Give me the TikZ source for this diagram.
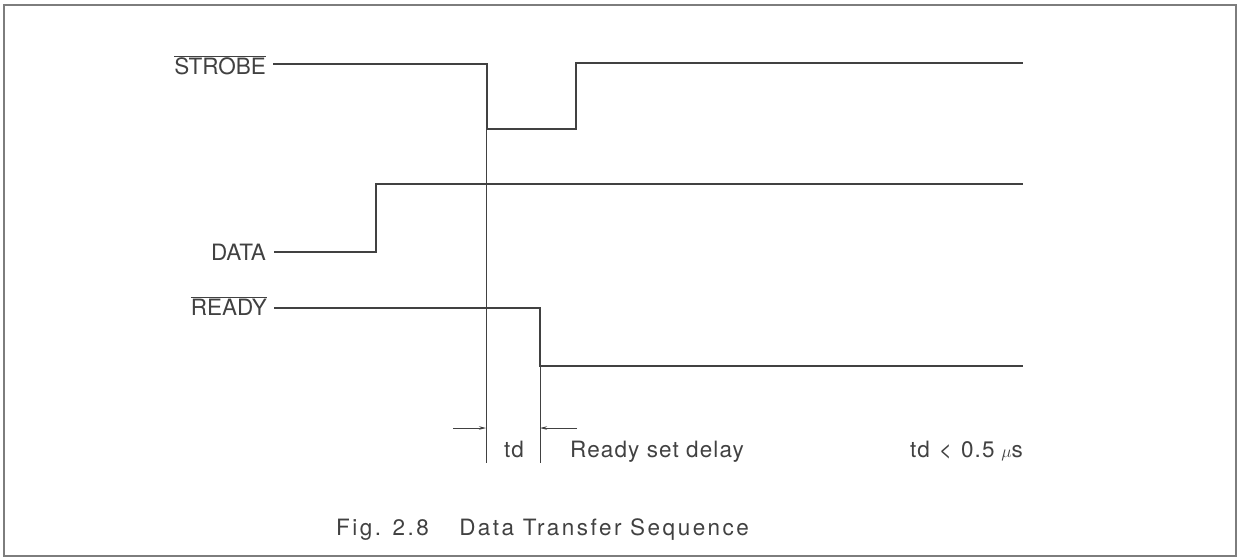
\documentclass[tikz,border=0pt]{standalone}
\usepackage{fontspec}
\setmainfont{TeX Gyre Heros}
\newfontfamily\bodyfont{TeX Gyre Heros}[LetterSpace=5]
\newfontfamily\plainfont{TeX Gyre Heros}
\newfontfamily\capfont{TeX Gyre Heros}[LetterSpace=11]
\usetikzlibrary{arrows.meta}
\definecolor{ink}{RGB}{65,65,65}
\definecolor{frame}{RGB}{125,125,125}
\begin{document}
\begin{tikzpicture}[x=0.05cm,y=-0.05cm,
  wave/.style={draw=ink,line width=2pt},
  guide/.style={draw=ink,line width=1.1pt},
  lbl/.style={text=ink,inner sep=0pt,font=\fontsize{32}{35}\selectfont},
  txt/.style={text=ink,inner sep=0pt,font=\bodyfont\fontsize{32}{35}\selectfont},
  dim/.style={draw=ink,line width=1.1pt,-{Stealth[length=10pt,width=5pt]}}]
\useasboundingbox (0,0) rectangle (1240,559);
\draw[draw=frame,line width=1.8pt] (4,5) rectangle (1236,556);
% labels
\node[lbl,anchor=base east] (strobe) at (266,74) {$\overline{\mbox{STROBE}}$};
\node[lbl,anchor=base east] (data) at (266,260) {DATA};
\node[lbl,anchor=base east] (ready) at (267,315) {$\overline{\mbox{READY}}$};
% corners
\coordinate (s0) at (273,64);
\coordinate (s1) at (487,64);
\coordinate (s2) at (487,129);
\coordinate (s3) at (576,129);
\coordinate (s4) at (576,63);
\coordinate (s5) at (1023,63);
\coordinate (d0) at (274,252);
\coordinate (d1) at (376,252);
\coordinate (d2) at (376,184);
\coordinate (d3) at (1023,184);
\coordinate (r0) at (274,308);
\coordinate (r1) at (540,308);
\coordinate (r2) at (540,366);
\coordinate (r3) at (1023,366);
\coordinate (g1) at (486,463);
\coordinate (g2) at (540,463);
\coordinate (a1) at (453,428);
\coordinate (a2) at (486,428);
\coordinate (b1) at (577,428);
\coordinate (b2) at (540,428);
% waveforms
\draw[wave] (s0) -- (s1) -- (s2) -- (s3) -- (s4) -- (s5);
\draw[wave] (d0) -- (d1) -- (d2) -- (d3);
\draw[wave] (r0) -- (r1) -- (r2) -- (r3);
% guides
\draw[guide] (486,129) -- (g1);
\draw[guide] (r2) -- (g2);
\draw[dim] (a1) -- (a2);
\draw[dim] (b1) -- (b2);
% texts
\node[txt,anchor=base] (td) at (514,457) {td};
\node[txt,anchor=base west] (rsd) at (570,457) {Ready set delay};
\node[txt,anchor=base east] (cond) at (1023,457) {td\hspace{0.4em}{\plainfont <}\hspace{0.4em}0.5\hspace{0.3em}$\mu$s};
\node[text=ink,inner sep=0pt,anchor=base west,font=\capfont\fontsize{32}{35}\selectfont] (cap) at (336,535) {Fig. 2.8\hspace{1.35em}Data Transfer Sequence};
\end{tikzpicture}
\end{document}
